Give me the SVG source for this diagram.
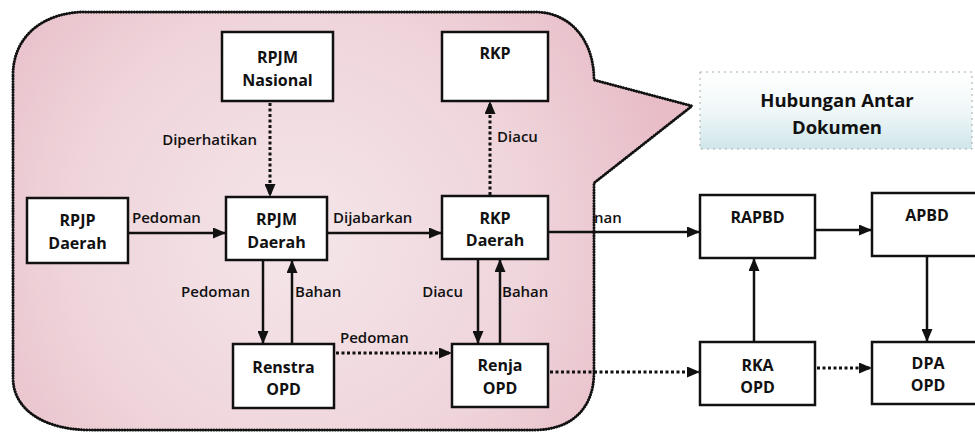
<svg xmlns="http://www.w3.org/2000/svg" width="975" height="434" viewBox="0 0 975 434">
<defs>
<radialGradient id="pink" cx="300" cy="240" r="380" gradientUnits="userSpaceOnUse">
<stop offset="0" stop-color="#f4e5e9"/>
<stop offset="0.6" stop-color="#efd5db"/>
<stop offset="1" stop-color="#e8bdc8"/>
</radialGradient>
<linearGradient id="title" x1="0" y1="0" x2="0" y2="1">
<stop offset="0" stop-color="#ffffff"/>
<stop offset="0.5" stop-color="#f0f7f8"/>
<stop offset="1" stop-color="#cfe6ea"/>
</linearGradient>
<marker id="ah" viewBox="0 0 13 11" refX="12" refY="5.5" markerWidth="13" markerHeight="11" markerUnits="userSpaceOnUse" orient="auto">
<path d="M0,0 L13,5.5 L0,11 Z" fill="#111"/>
</marker>
</defs>
<style>
.box{fill:#fff;stroke:#111;stroke-width:2.5}
.bt{font-family:"Open Sans","DejaVu Sans",sans-serif;font-weight:700;font-size:16px;fill:#111;text-anchor:middle}
.lb{font-family:"Open Sans","DejaVu Sans",sans-serif;font-weight:600;font-size:15px;fill:#111}
.sol{stroke:#111;stroke-width:2.5;fill:none;marker-end:url(#ah)}
.dot{stroke:#111;stroke-width:3;fill:none;stroke-dasharray:3 2.5;marker-end:url(#ah)}
</style>
<rect width="975" height="434" fill="#fff"/>
<g id="callout">
<path d="M13,75 C13,35 45,12 85,12 L535,12 C570,12 594,40 594,80 L692,106 L594,183 L594,372 C594,410 570,430 534,430 L90,430 C45,430 13,410 13,378 Z" fill="url(#pink)" stroke="#111" stroke-width="3" stroke-linecap="round" stroke-dasharray="0.1 2.6"/>
</g>
<g id="title-box">
<rect x="700" y="72" width="272" height="77" fill="url(#title)" stroke="#aaa" stroke-width="1" stroke-dasharray="2 4"/>
<text class="bt" x="837" y="107" style="font-size:18.5px">Hubungan Antar</text>
<text class="bt" x="837" y="134" style="font-size:18.5px">Dokumen</text>
</g>
<g id="connectors">
<line class="dot" x1="270" y1="103" x2="270" y2="196"/>
<line class="dot" x1="490" y1="195" x2="490" y2="102"/>
<line class="sol" x1="129" y1="233" x2="225" y2="233"/>
<line class="sol" x1="328" y1="233" x2="441" y2="233"/>
<line class="sol" x1="263" y1="261" x2="263" y2="343"/>
<line class="sol" x1="292" y1="343" x2="292" y2="261"/>
<line class="dot" x1="336" y1="353" x2="451" y2="353"/>
<line class="sol" x1="478" y1="260" x2="478" y2="343"/>
<line class="sol" x1="500" y1="343" x2="500" y2="260"/>
<line class="sol" x1="549" y1="232" x2="699" y2="232"/>
<line class="sol" x1="816" y1="230" x2="871" y2="230"/>
<line class="sol" x1="754" y1="341" x2="754" y2="259"/>
<line class="sol" x1="927" y1="257" x2="927" y2="341"/>
<line class="dot" x1="550" y1="372" x2="699" y2="372"/>
<line class="dot" x1="817" y1="368" x2="871" y2="368"/>
<text class="lb" x="257" y="145" text-anchor="end">Diperhatikan</text>
<text class="lb" x="497" y="142">Diacu</text>
<text class="lb" x="132" y="223">Pedoman</text>
<text class="lb" x="333" y="223">Dijabarkan</text>
<text class="lb" x="250" y="297" text-anchor="end">Pedoman</text>
<text class="lb" x="295" y="297">Bahan</text>
<text class="lb" x="340" y="343">Pedoman</text>
<text class="lb" x="463" y="297" text-anchor="end">Diacu</text>
<text class="lb" x="502" y="297">Bahan</text>
<text class="lb" x="594" y="223">nan</text>
</g>
<g id="rpjm-nasional"><rect class="box" x="222" y="32" width="111" height="69"/><text class="bt" x="277.5" y="63">RPJM</text><text class="bt" x="277.5" y="86">Nasional</text></g>
<g id="rkp"><rect class="box" x="442" y="32" width="106" height="69"/><text class="bt" x="495" y="59">RKP</text></g>
<g id="rpjp-daerah"><rect class="box" x="27" y="198" width="101" height="65"/><text class="bt" x="77.5" y="226">RPJP</text><text class="bt" x="77.5" y="249">Daerah</text></g>
<g id="rpjm-daerah"><rect class="box" x="226" y="197" width="101" height="63"/><text class="bt" x="276.5" y="225">RPJM</text><text class="bt" x="276.5" y="248">Daerah</text></g>
<g id="rkp-daerah"><rect class="box" x="442" y="196" width="106" height="63"/><text class="bt" x="495" y="224">RKP</text><text class="bt" x="495" y="246">Daerah</text></g>
<g id="renstra-opd"><rect class="box" x="233" y="344" width="101" height="64"/><text class="bt" x="283.5" y="373">Renstra</text><text class="bt" x="283.5" y="395">OPD</text></g>
<g id="renja-opd"><rect class="box" x="452" y="344" width="96" height="63"/><text class="bt" x="500" y="371">Renja</text><text class="bt" x="500" y="394">OPD</text></g>
<g id="rapbd"><rect class="box" x="700" y="195" width="115" height="63"/><text class="bt" x="757.5" y="223">RAPBD</text></g>
<g id="apbd"><rect class="box" x="872" y="193" width="115" height="63"/><text class="bt" x="927" y="221">APBD</text></g>
<g id="rka-opd"><rect class="box" x="700" y="342" width="115" height="63"/><text class="bt" x="757.5" y="371">RKA</text><text class="bt" x="757.5" y="393">OPD</text></g>
<g id="dpa-opd"><rect class="box" x="872" y="342" width="115" height="62"/><text class="bt" x="928" y="369">DPA</text><text class="bt" x="928" y="391">OPD</text></g>
</svg>
